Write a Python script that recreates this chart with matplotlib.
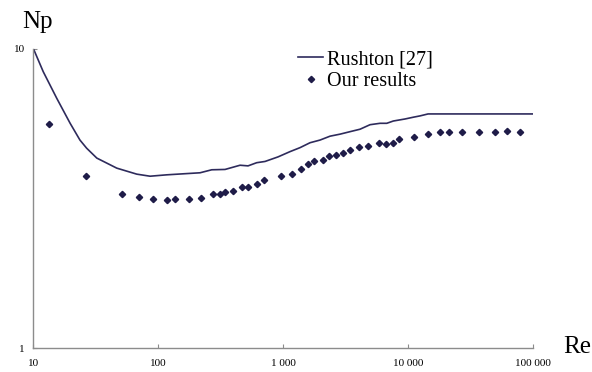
import numpy as np
import matplotlib.pyplot as plt

# Rushton curve [27]
re_rushton = [10, 12.0, 15.4, 19.7, 23.6, 26.7, 32.2, 46.5, 67.2, 85.9, 116.7, 158.5,
              215.6, 267.5, 341.8, 450.5, 522, 612, 714, 907, 1132, 1360, 1636, 1966,
              2364, 2843, 3417, 4108, 4939, 5937, 6719, 7586, 9411, 10965, 12410,
              14380, 100000]
np_rushton = [10.0, 8.37, 6.82, 5.63, 4.95, 4.65, 4.31, 3.99, 3.81, 3.75, 3.79, 3.82,
              3.85, 3.94, 3.95, 4.08, 4.06, 4.16, 4.20, 4.35, 4.53, 4.67, 4.85, 4.95,
              5.10, 5.18, 5.28, 5.38, 5.57, 5.63, 5.63, 5.73, 5.82, 5.90, 5.96,
              6.05, 6.05]

# our results
re_ours = [13.4, 26.3, 50.8, 69.4, 91.2, 116.7, 136.8, 175, 220.8, 272.4, 311.6,
           339.7, 393.7, 469.9, 522.4, 612.9, 701, 953, 1174, 1373, 1567, 1770,
           2078, 2307, 2640, 3020, 3404, 4011, 4733, 5832, 6597, 7545, 8472,
           11045, 14454, 17770, 20970, 27040, 36460, 49380, 61380, 77620]
np_ours = [5.60, 3.77, 3.27, 3.19, 3.15, 3.12, 3.15, 3.15, 3.18, 3.27, 3.28,
           3.32, 3.36, 3.44, 3.46, 3.54, 3.63, 3.75, 3.82, 3.97, 4.12, 4.22,
           4.25, 4.38, 4.43, 4.47, 4.58, 4.68, 4.72, 4.85, 4.79, 4.85, 4.99,
           5.07, 5.18, 5.26, 5.26, 5.26, 5.26, 5.26, 5.31, 5.26]

x_ticks = [10, 100, 1000, 10000, 100000]
x_labels = ['10', '100', '1 000', '10 000', '100 000']
y_ticks = [1, 10]
y_labels = ['1', '10']

plt.rcParams['font.family'] = ['Liberation Serif', 'DejaVu Serif']

fig = plt.figure(figsize=(5.92, 3.72), dpi=100)
ax = fig.add_axes([0.0563, 0.0637, 0.8446, 0.8059])

navy = '#2e2b5c'
ax.plot(re_rushton, np_rushton, '-', color=navy, linewidth=1.2, label='Rushton [27]')
ax.plot(re_ours, np_ours, 'D', color='#1f1c48', markersize=3.2, linestyle='none',
        label='Our results')

ax.set_xscale('log')
ax.set_yscale('log')
ax.set_xlim(10, 100000)
ax.set_ylim(1, 10)
ax.minorticks_off()
ax.set_xticks(x_ticks)
ax.set_xticklabels(x_labels)
ax.set_yticks(y_ticks)
ax.set_yticklabels(y_labels)

for s in ['top', 'right']:
    ax.spines[s].set_visible(False)
for s in ['left', 'bottom']:
    ax.spines[s].set_color('#8c8c8c')
    ax.spines[s].set_linewidth(1.0)
ax.tick_params(axis='both', direction='in', length=3, width=0.8, color='#8c8c8c',
               labelsize=8)
ax.tick_params(axis='x', pad=7.5)
ax.tick_params(axis='y', pad=6)

fig.text(37.5 / 592, 1 - 22 / 372, 'Np', fontsize=18, ha='center', va='center')
fig.text(577 / 592, 1 - 347 / 372, 'Re', fontsize=18, ha='center', va='center')

ax.legend(loc='upper left', bbox_to_anchor=(298 / 592, 1 - 50 / 372),
          bbox_transform=fig.transFigure, frameon=False, fontsize=14.5,
          handlelength=1.25, handletextpad=0.2, borderpad=0, borderaxespad=0,
          labelspacing=0.15)

fig.savefig('out.png', dpi=100)
